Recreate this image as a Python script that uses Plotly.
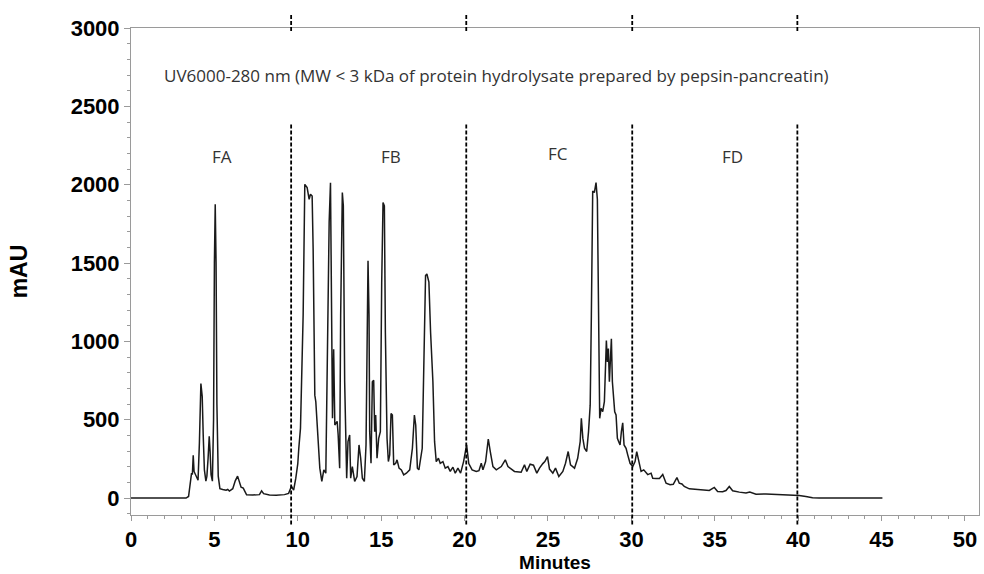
import plotly.graph_objects as go

# ---- data (minutes, mAU) ----
t_fa = [0, 3.3, 3.45, 3.55, 3.63, 3.68, 3.73, 3.78, 3.85, 3.95, 4.02, 4.1, 4.19, 4.23, 4.27,
        4.33, 4.4, 4.49, 4.55, 4.62, 4.69, 4.74, 4.8, 4.88, 4.95, 5.0, 5.05, 5.1, 5.15, 5.23,
        5.33, 5.5, 5.7, 5.8, 5.9, 6.1, 6.25, 6.39, 6.5, 6.6, 6.73, 6.85, 6.93, 7.3, 7.7, 7.83,
        7.95, 8.3, 8.7, 9.2, 9.45]
y_fa = [0, 0, 10, 80, 159, 150, 273, 170, 150, 125, 114, 350, 731, 690, 648,
        400, 180, 108, 140, 250, 394, 300, 150, 108, 500, 1500, 1875, 1500, 600, 140,
        60, 55, 50, 55, 45, 60, 110, 140, 110, 70, 64, 30, 21, 20, 22, 46,
        28, 20, 18, 22, 30]

t_fb = [9.62, 9.75, 9.88, 10.0, 10.06, 10.1, 10.16, 10.32, 10.42, 10.56, 10.68, 10.76, 10.86,
        10.92, 11.02, 11.08, 11.16, 11.32, 11.44, 11.56, 11.68, 11.76, 11.88, 11.96, 12.04,
        12.08, 12.15, 12.22, 12.36, 12.42, 12.51, 12.57, 12.67, 12.73, 12.81, 12.87, 12.93,
        13.01, 13.11, 13.17, 13.27, 13.41, 13.55, 13.67, 13.77, 13.87, 13.99, 14.09, 14.15,
        14.21, 14.27, 14.31, 14.39, 14.47, 14.55, 14.61, 14.67, 14.75, 14.85, 14.95, 15.03,
        15.11, 15.19, 15.25, 15.35, 15.43, 15.51, 15.59, 15.67, 15.75, 15.87, 15.95, 16.07,
        16.21, 16.35, 16.51, 16.71, 16.87, 16.99, 17.07, 17.17, 17.26, 17.46, 17.57, 17.66,
        17.74, 17.86, 17.96, 18.1, 18.2, 18.3, 18.43, 18.54, 18.7, 18.84, 19.0, 19.14, 19.3,
        19.44, 19.6, 19.76, 19.94]
y_fb = [76, 50, 127, 220, 318, 380, 445, 1165, 2002, 1981, 1907, 1939, 1928,
        1589, 657, 615, 466, 191, 106, 180, 159, 742, 1760, 2013, 954,
        509, 950, 466, 490, 403, 191, 1165, 1950, 1865, 742, 254, 127,
        360, 403, 127, 201, 106, 138, 339, 254, 127, 106, 339, 954,
        1515, 1165, 424, 222, 742, 752, 424, 530, 254, 381, 424, 1378,
        1886, 1865, 1060, 381, 233, 276, 540, 530, 212, 222, 244, 191,
        180, 148, 159, 180, 318, 530, 466, 191, 180, 318, 954, 1420,
        1430, 1378, 1060, 742, 360, 233, 254, 222, 233, 191, 201, 170, 197,
        159, 191, 159, 233]

t_fc = [20.12, 20.25, 20.45, 20.7, 20.86, 21.0, 21.1, 21.26, 21.42, 21.54, 21.7, 21.9, 22.2,
        22.44, 22.6, 22.99, 23.39, 23.59, 23.73, 23.93, 24.13, 24.33, 24.49, 24.69, 24.81,
        24.97, 25.09, 25.29, 25.45, 25.65, 25.89, 26.05, 26.21, 26.35, 26.59, 26.78, 26.93,
        27.0, 27.09, 27.19, 27.32, 27.43, 27.53, 27.6, 27.68, 27.78, 27.88, 27.96, 28.04,
        28.1, 28.18, 28.28, 28.38, 28.44, 28.5, 28.56, 28.62, 28.68, 28.74, 28.8, 28.86,
        28.92, 29.0, 29.08, 29.16, 29.24, 29.32, 29.4, 29.48, 29.56, 29.68, 29.78, 29.92]
y_fc = [339, 220, 180, 170, 175, 222, 180, 233, 377, 297, 201, 180, 201,
        244, 201, 170, 165, 212, 170, 216, 210, 159, 191, 220, 233,
        265, 185, 159, 191, 138, 170, 222, 297, 212, 191, 254, 360,
        509, 381, 318, 297, 424, 593, 1165, 1960, 1950, 2013, 1907, 1165,
        509, 572, 551, 615, 847, 1006, 869, 954, 742, 911, 1017, 742,
        657, 551, 530, 381, 360, 339, 424, 480, 339, 318, 276, 222]

t_fd = [30.08, 30.22, 30.32, 30.42, 30.58, 30.74, 30.84, 30.98, 31.18, 31.28, 31.48, 31.68,
        31.88, 32.08, 32.32, 32.51, 32.73, 32.87, 33.03, 33.17, 33.47, 34.07, 34.67, 34.97,
        35.17, 35.47, 35.67, 35.87, 36.07, 36.47, 36.87, 37.1, 37.47, 38.07, 39.07, 40.06,
        40.46, 40.86, 41.26, 45.05]
y_fd = [201, 233, 297, 244, 170, 180, 170, 150, 159, 127, 125, 125,
        150, 95, 85, 88, 131, 95, 90, 74, 59, 53, 49, 68,
        42, 40, 48, 74, 47, 38, 32, 38, 25, 26, 21, 17,
        10, 2, 0, 0]

fraction_bounds = [9.6, 20.1, 30.05, 39.95]
fraction_names = ["FA", "FB", "FC", "FD"]
fraction_label_x = [5.45, 15.6, 25.6, 36.05]
fraction_label_y = [2180, 2180, 2200, 2180]

x_ticks = [0, 5, 10, 15, 20, 25, 30, 35, 40, 45, 50]
y_ticks = [0, 500, 1000, 1500, 2000, 2500, 3000]

title_text = "UV6000-280 nm (MW < 3 kDa of protein hydrolysate prepared by pepsin-pancreatin)"

times = t_fa + t_fb + t_fc + t_fd
mau = y_fa + y_fb + y_fc + y_fd

fig = go.Figure()
fig.add_trace(go.Scatter(x=times, y=mau, mode="lines",
                         line=dict(color="#1a1a1a", width=1.5), showlegend=False,
                         hoverinfo="x+y"))

tick_font = dict(family="Liberation Sans, Arial, sans-serif", size=22, color="black")
label_font = dict(family="Open Sans, DejaVu Sans, sans-serif", size=17, color="#333333")

fig.update_layout(
    width=984, height=574,
    margin=dict(l=131, r=4, t=28, b=57),
    paper_bgcolor="white", plot_bgcolor="white",
    xaxis=dict(range=[0, 50.84], tickvals=x_ticks, ticktext=[f"<b>{v}</b>" for v in x_ticks],
               showgrid=False, zeroline=False, showline=True, linecolor="#9a9a9a", linewidth=1,
               mirror=True, ticks="outside", ticklen=5, tickcolor="#9a9a9a",
               minor=dict(dtick=1, ticks="outside", ticklen=3, tickcolor="#9a9a9a"),
               tickfont=tick_font,
               title=dict(text="<b>Minutes</b>", font=dict(family="Liberation Sans, Arial, sans-serif", size=19, color="black"), standoff=4)),
    yaxis=dict(range=[-108, 3000], tickvals=y_ticks, ticktext=[f"<b>{v}</b>" for v in y_ticks],
               showgrid=False, zeroline=False, showline=True, linecolor="#9a9a9a", linewidth=1,
               mirror=True, ticks="outside", ticklen=6, tickcolor="#9a9a9a",
               minor=dict(dtick=100, ticks="outside", ticklen=3, tickcolor="#9a9a9a"),
               tickfont=tick_font,
               title=dict(text="<b>mAU</b>", font=dict(family="Liberation Sans, Arial, sans-serif", size=23, color="black"), standoff=36)),
)

# dashed fraction boundaries (two segments each, outside the plot too)
for xb in fraction_bounds:
    fig.add_shape(type="line", xref="x", yref="paper", x0=xb, x1=xb, y0=0.8016, y1=-0.0204,
                  line=dict(color="black", width=1.8, dash="4px,2px"))
    fig.add_shape(type="line", xref="x", yref="paper", x0=xb, x1=xb, y0=1.0266, y1=0.992,
                  line=dict(color="black", width=1.8, dash="4px,2px"))

for name, lx, ly in zip(fraction_names, fraction_label_x, fraction_label_y):
    fig.add_annotation(x=lx, y=ly, xref="x", yref="y", text=name, showarrow=False,
                       font=label_font)

fig.add_annotation(x=21.9, y=2700, xref="x", yref="y", text=title_text, showarrow=False,
                   font=label_font)

fig.write_html("out.html")
